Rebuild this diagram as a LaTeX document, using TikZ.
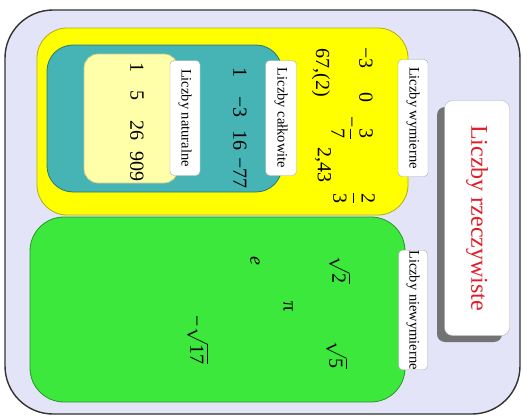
\documentclass[tikz,border=0pt]{standalone}
\usepackage{fontspec}
\setmainfont{Liberation Serif}
\definecolor{lav}{RGB}{228,228,248}
\definecolor{yel}{RGB}{255,255,0}
\definecolor{yelb}{RGB}{175,175,20}
\definecolor{grn}{RGB}{60,232,60}
\definecolor{grnb}{RGB}{40,150,40}
\definecolor{teal2}{RGB}{70,180,180}
\definecolor{tealb}{RGB}{40,120,120}
\definecolor{paley}{RGB}{255,255,170}
\definecolor{paleyb}{RGB}{200,200,140}
\definecolor{redt}{RGB}{225,30,40}
\begin{document}
\begin{tikzpicture}[x=1pt,y=-1pt,
  setbox/.style={draw=#1,line width=0.8pt},
  lbl/.style={draw=gray!70,fill=white,rounded corners=4pt,rotate=-90,inner sep=0pt,
     font=\fontsize{14.5}{16}\selectfont},
  num/.style={rotate=-90,inner sep=0pt,font=\fontsize{20}{24}\selectfont}]
\useasboundingbox[fill=white] (0,0) rectangle (527,415);
% outer set
\draw[fill=lav,draw=black!80,line width=1.4pt,rounded corners=48pt] (5,10) rectangle (520,414);
% rational
\draw[setbox=yelb,fill=yel,rounded corners=30pt] (37,28) rectangle (408,215);
% irrational
\draw[setbox=grnb,fill=grn,rounded corners=34pt] (30,217) rectangle (405,402);
% integers
\draw[setbox=tealb,fill=teal2,rounded corners=26pt] (47,45) rectangle (282,192);
% naturals
\draw[setbox=paleyb,fill=paley,rounded corners=14pt] (84,54) rectangle (178,183);
% labels
\node[lbl,minimum width=117pt,minimum height=30pt] (lw) at (413,118) {Liczby wymierne};
\node[lbl,minimum width=115pt,minimum height=31pt] (lc) at (281,118) {Liczby całkowite};
\node[lbl,minimum width=115pt,minimum height=30pt] (ln) at (185,118) {Liczby naturalne};
\node[lbl,minimum width=115pt,minimum height=29pt] (lnw) at (413,310) {Liczby niewymierne};
% title with shadow
\fill[black!55,rounded corners=8pt] (437,107) rectangle (502,342);
\node[draw=gray!60,fill=white,rounded corners=8pt,rotate=-90,inner sep=0pt,
  minimum width=235pt,minimum height=65pt,text=redt,
  font=\fontsize{24}{28}\selectfont] (lr) at (477,218) {Liczby rzeczywiste};
% rational numbers
\node[num] (q1) at (366,58) {−3};
\node[num] (q2) at (366,97) {0};
\node[num] (q3) at (352,128) {−$\displaystyle\frac{\mbox{3}}{\mbox{7}}$};
\node[num] (q4) at (321,73) {67,(2)};
\node[num] (q5) at (323,165) {2,43};
\node[num] (q6) at (354,198) {$\displaystyle\frac{\mbox{2}}{\mbox{3}}$};
% integers
\node[num] (z1) at (240,72) {1};
\node[num] (z2) at (240,107) {−3};
\node[num] (z3) at (240,140) {16};
\node[num] (z4) at (240,173) {−77};
% naturals
\node[num] (n1) at (137,67) {1};
\node[num] (n2) at (137,95) {5};
\node[num] (n3) at (137,130) {26};
\node[num] (n4) at (137,166) {909};
% irrationals
\node[num] (i1) at (340,270) {$\sqrt{\mbox{2}}$};
\node[num] (i2) at (255,261) {\textit{e}};
\node[num] (i3) at (288,307) {π};
\node[num] (i4) at (337,355) {$\sqrt{\mbox{5}}$};
\node[num] (i5) at (198,340) {−$\sqrt{\mbox{17}}$};
\end{tikzpicture}
\end{document}
